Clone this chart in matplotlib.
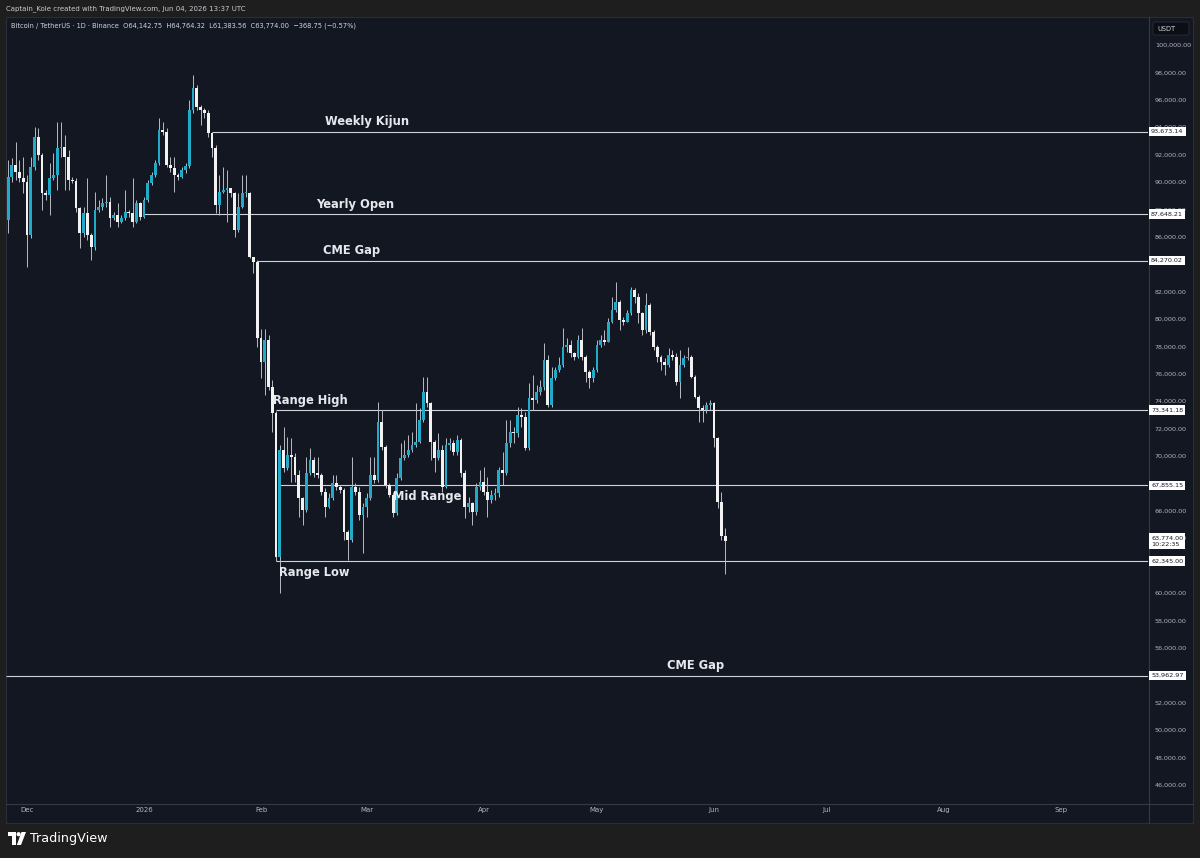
import matplotlib
matplotlib.use("Agg")
import matplotlib.pyplot as plt
import matplotlib.dates as mdates
from matplotlib.patches import Rectangle, Polygon, Circle, FancyBboxPatch
from matplotlib.transforms import blended_transform_factory
import pandas as pd

# BTC/USDT 1D candles (Binance), 2025-11-26 .. 2026-06-04
first_day = "2025-11-26"

opens = [
    87225, 90390, 91240, 90755, 90270, 90025, 86130, 91120, 93310, 91970,
    89170, 89050, 90270, 90510, 92460, 92530, 91850, 90145, 90050, 88080,
    86255, 87715, 86130, 85280, 87955, 88200, 88445, 88565, 87350, 87590,
    87105, 87350, 87835, 87715, 87105, 88445, 87470, 88685, 89905, 90510,
    91360, 93795, 93675, 91240, 90995, 90510, 90390, 90880, 91170, 95255,
    96840, 95500, 95255, 95010, 93550, 92460, 88320, 89295, 89415, 89540,
    89170, 86495, 88200, 89170, 89220, 84550, 84185, 78610, 76890, 78450,
    75060, 73140, 62620, 70435, 69100, 70070, 69950, 68610, 66905, 66055,
    68735, 69705, 68735, 68610, 67395, 66300, 66905, 68000, 67760, 67515,
    64475, 63865, 67760, 67395, 65690, 66300, 66905, 68610, 68245, 72505,
    70680, 67880, 67150, 65810, 68370, 69830, 70070, 70435, 70800, 71045,
    72625, 74690, 73840, 71045, 69830, 70435, 67760, 70800, 70920, 70315,
    71165, 68735, 66300, 66545, 65935, 67760, 68125, 67395, 66790, 67150,
    67275, 68975, 68735, 70920, 71775, 71655, 72990, 72870, 70555, 74210,
    74085, 74695, 75060, 77005, 73720, 75670, 76275, 76640, 77980, 78100,
    77495, 77250, 78465, 77250, 76155, 75670, 76275, 78100, 78465, 78345,
    79805, 80655, 81265, 79925, 79805, 80410, 82115, 81630, 80410, 79195,
    81020, 79075, 77980, 77250, 76885, 76640, 77370, 77250, 75425, 76640,
    77125, 77200, 75790, 74330, 73480, 73355, 73720, 73840, 71290, 66665,
    64142.75,
]
highs = [
    91605, 91730, 92945, 91605, 91850, 90510, 91850, 94040, 93920, 92090,
    89415, 91360, 92090, 94400, 94400, 93430, 92335, 90390, 90270, 88200,
    88200, 90270, 86255, 89295, 88685, 88810, 90510, 88930, 87835, 88445,
    87590, 89415, 87955, 90270, 88685, 88565, 88930, 90145, 90755, 91605,
    94650, 94400, 93920, 91850, 91850, 90630, 91120, 91360, 95985, 97810,
    97080, 95620, 95380, 95255, 93675, 92700, 90510, 91120, 90880, 89540,
    89295, 89170, 90510, 90510, 89295, 84550, 84300, 79300, 79300, 78800,
    75550, 73300, 70800, 72140, 71410, 71285, 70190, 68975, 67030, 69950,
    70560, 69950, 69950, 68735, 67640, 67275, 68610, 68610, 67880, 67640,
    64600, 69950, 68000, 67760, 66545, 67275, 69950, 69950, 73965, 73355,
    70800, 68000, 67395, 68735, 70920, 71165, 71530, 71775, 73840, 73480,
    75790, 75790, 73965, 71165, 71650, 70800, 71285, 71285, 71165, 71530,
    71290, 68975, 67030, 66665, 68005, 68975, 69220, 68490, 67515, 67640,
    69220, 70315, 72625, 72625, 72140, 73600, 73480, 73235, 75305, 75910,
    75180, 75545, 78225, 77370, 76520, 76520, 77250, 79320, 78590, 78465,
    77615, 78830, 79320, 77370, 76275, 76520, 78465, 78830, 79195, 80045,
    81630, 82725, 81385, 80170, 80655, 82360, 82235, 81870, 80535, 81870,
    81140, 79195, 78100, 77370, 77125, 77860, 77735, 77495, 77735, 77370,
    77980, 77370, 75910, 74450, 73720, 73965, 74085, 73965, 71410, 67395,
    64764.32,
]
lows = [
    86255, 90025, 90145, 90025, 89170, 83820, 85890, 90880, 91600, 87955,
    88685, 87590, 90145, 89415, 91850, 89415, 89415, 89905, 87835, 85160,
    86010, 85770, 84305, 85035, 87835, 87955, 88200, 86740, 87225, 86740,
    86985, 87225, 87470, 86740, 86985, 87225, 87350, 88565, 89780, 90390,
    91240, 93430, 91120, 90755, 89295, 90145, 90270, 90630, 90995, 95010,
    95255, 94160, 94650, 93310, 91850, 87715, 87590, 89170, 87105, 88930,
    86010, 86375, 88080, 88930, 84430, 83330, 77950, 75670, 74450, 74800,
    71780, 62300, 59975, 68855, 68975, 68125, 68125, 65570, 64960, 65935,
    68610, 68490, 68370, 67150, 65570, 66180, 66785, 67515, 67275, 63865,
    62410, 63745, 67150, 65325, 62895, 65570, 66785, 68000, 68125, 70435,
    67640, 67030, 65570, 65690, 68245, 69705, 69950, 70315, 70680, 70920,
    72505, 73600, 69705, 68855, 69705, 67395, 67640, 70435, 70070, 70070,
    68490, 65450, 65935, 64960, 65690, 67515, 67150, 65570, 66545, 66790,
    67030, 67880, 68610, 70680, 70920, 71410, 72140, 70440, 70440, 73355,
    73840, 74450, 74820, 73600, 73600, 75545, 76155, 76520, 77615, 77250,
    77005, 77125, 77005, 75425, 74940, 75425, 76155, 77980, 78100, 78345,
    79685, 80535, 79195, 79560, 79805, 80290, 81140, 79685, 78830, 78955,
    78830, 77735, 76885, 76275, 75910, 76520, 77005, 75180, 74210, 76520,
    77005, 75670, 74210, 72505, 72505, 73115, 73355, 70680, 66180, 63900,
    61383.56,
]
closes = [
    90390, 91240, 90755, 90270, 90025, 86130, 91120, 93310, 91970, 89170,
    89050, 90270, 90510, 92460, 92530, 91850, 90145, 90050, 88080, 86255,
    87715, 86130, 85280, 87955, 88200, 88445, 88565, 87350, 87590, 87105,
    87350, 87835, 87715, 87105, 88445, 87470, 88685, 89905, 90510, 91360,
    93795, 93675, 91240, 90995, 90510, 90390, 90880, 91170, 95255, 96840,
    95500, 95255, 95010, 93550, 92460, 88320, 89295, 89415, 89540, 89170,
    86495, 88200, 89170, 89220, 84550, 84185, 78610, 76890, 78450, 75060,
    73140, 62620, 70435, 69100, 70070, 69950, 68610, 66905, 66055, 68735,
    69705, 68735, 68610, 67395, 66300, 66905, 68000, 67760, 67515, 64475,
    63865, 67760, 67395, 65690, 66300, 66905, 68610, 68245, 72505, 70680,
    67880, 67150, 65810, 68370, 69830, 70070, 70435, 70800, 71045, 72625,
    74690, 73840, 71045, 69830, 70435, 67760, 70800, 70920, 70315, 71165,
    68735, 66300, 66545, 65935, 67760, 68125, 67395, 66790, 67150, 67275,
    68975, 68735, 70920, 71775, 71655, 72990, 72870, 70555, 74210, 74085,
    74695, 75060, 77005, 73720, 75670, 76275, 76640, 77980, 78100, 77495,
    77250, 78465, 77250, 76155, 75670, 76275, 78100, 78465, 78345, 79805,
    80655, 81265, 79925, 79805, 80410, 82115, 81630, 80410, 79195, 81020,
    79075, 77980, 77250, 76885, 76640, 77370, 77250, 75425, 76640, 77125,
    77200, 75790, 74330, 73480, 73355, 73720, 73840, 71290, 66665, 64142.75,
    63774.00,
]

# horizontal levels drawn on the chart
level_names = ["Weekly Kijun", "Yearly Open", "CME Gap", "Range High",
               "Mid Range", "Range Low", "CME Gap"]
level_prices = [93673.14, 87648.21, 84270.02, 73341.18, 67855.15, 62345.00, 53962.97]
level_starts = ["2026-01-19", "2026-01-01", "2026-01-31", "2026-02-05",
                "2026-02-06", "2026-02-05", None]
label_dates = ["2026-03-01", "2026-02-26", "2026-02-25", "2026-02-14",
               "2026-03-17", "2026-02-15", "2026-05-27"]
label_above = [True, True, True, True, False, False, True]

price_ticks = list(range(46000, 100001, 2000))
# tick labels that TradingView hides behind the level tags
hidden_ticks = [54000, 62000, 68000, 84000]
month_ticks = ["2025-12-01", "2026-01-01", "2026-02-01", "2026-03-01", "2026-04-01",
               "2026-05-01", "2026-06-01", "2026-07-01", "2026-08-01", "2026-09-01"]
month_labels = ["Dec", "2026", "Feb", "Mar", "Apr", "May", "Jun", "Jul", "Aug", "Sep"]

header = "Captain_Kole created with TradingView.com, Jun 04, 2026 13:37 UTC"
legend = ("Bitcoin / TetherUS · 1D · Binance  O64,142.75  H64,764.32  "
          "L61,383.56  C63,774.00  −368.75 (−0.57%)")
last_price = closes[-1]
countdown = "10:22:35"

# colours
OUTER = "#1e1e1e"
PANEL = "#131722"
SEP = "#363a45"
UP = "#22abc9"
DOWN = "#f2f2f2"
WICK = "#b8bbc2"
LEVEL = "#cfd2d8"
TXT = "#b2b5be"

W, H = 1200, 858
fig = plt.figure(figsize=(12, 8.58), dpi=100, facecolor=OUTER)

# background layer in pixel coordinates
bg = fig.add_axes([0, 0, 1, 1], zorder=0)
bg.set_xlim(0, W)
bg.set_ylim(H, 0)
bg.axis("off")
bg.add_patch(Rectangle((6, 17), 1187, 806, fc=PANEL, ec="#2a2e39", lw=0.8))
bg.plot([1148.5, 1148.5], [17, 823], color=SEP, lw=0.8)
bg.plot([6, 1193], [803.5, 803.5], color=SEP, lw=0.8)
bg.text(6, 9, header, fontsize=5, color="#c8cbd2", va="center", ha="left")
bg.text(11, 26, legend, fontsize=4.8, color="#d1d4dc", va="center", ha="left")
bg.add_patch(FancyBboxPatch((1153, 22), 36, 13, boxstyle="round,pad=0,rounding_size=2",
                            fc="#0c0e14", ec="#2a2e39", lw=0.6))
bg.text(1157, 28.7, "USDT", fontsize=4.8, color="#d1d4dc", va="center", ha="left")

# TradingView logo
bg.add_patch(Polygon([(8, 832), (16, 832), (16, 845), (12, 845), (12, 836), (8, 836)],
                     closed=True, fc="white", ec="none"))
bg.add_patch(Circle((18.6, 834.2), 2.1, fc="white", ec="none"))
bg.add_patch(Polygon([(21.5, 832), (26, 832), (21, 845), (16.8, 845)],
                     closed=True, fc="white", ec="none"))
bg.text(30, 838.5, "TradingView", fontsize=9.2, color="white", va="center", ha="left",
        fontweight="medium")

# main chart
ax = fig.add_axes([6 / W, 1 - 803 / H, 1142 / W, 786 / H], zorder=2)
ax.set_facecolor("none")
for s in ax.spines.values():
    s.set_visible(False)

dates = pd.date_range(first_day, periods=len(closes), freq="D")
xs = mdates.date2num(dates)
up = [c >= o for o, c in zip(opens, closes)]
colors = [UP if u else DOWN for u in up]
bottoms = [min(o, c) for o, c in zip(opens, closes)]
heights = [max(abs(c - o), 70) for o, c in zip(opens, closes)]

ax.vlines(xs, lows, highs, color=WICK, lw=0.7, zorder=3)
ax.bar(xs, heights, bottom=bottoms, width=0.74, color=colors, edgecolor="none", zorder=4)

dec1 = mdates.datestr2num("2025-12-01")
xmin, xmax = dec1 - 5.56, dec1 + 297.0
ax.set_xlim(xmin, xmax)
ax.set_ylim(44672, 102044)

# levels
lab_tr = blended_transform_factory(ax.transAxes, ax.transData)
for name, price, start, ld, above in zip(level_names, level_prices, level_starts,
                                         label_dates, label_above):
    x0 = xmin if start is None else mdates.datestr2num(start)
    ax.hlines(price, x0, xmax, color=LEVEL, lw=0.8, zorder=2)
    ax.annotate(name, xy=(mdates.datestr2num(ld), price),
                xytext=(0, 2.5 if above else -3.5), textcoords="offset points",
                ha="center", va="bottom" if above else "top",
                fontsize=8.3, fontweight="bold", color="#e6e8ee", zorder=6)
    ax.text(1 + 3 / 1142, price, f"{price:,.2f}", transform=lab_tr,
            ha="left", va="center", fontsize=4.6, color=PANEL, clip_on=False,
            zorder=10, bbox=dict(boxstyle="square,pad=0.35", fc="white", ec="none"))

# last price tag with countdown
ax.text(1 + 3 / 1142, last_price, f"{last_price:,.2f}\n{countdown}", transform=lab_tr,
        ha="left", va="center", fontsize=4.6, color=PANEL, clip_on=False,
        zorder=10, linespacing=1.4,
        bbox=dict(boxstyle="square,pad=0.35", fc="white", ec="none"))

# axes ticks
ax.yaxis.tick_right()
ax.set_yticks(price_ticks)
ax.set_yticklabels(["" if v in hidden_ticks else f"{v:,.2f}" for v in price_ticks])
ax.tick_params(axis="y", length=0, pad=5, labelsize=4.6, labelcolor=TXT)
ax.set_xticks([mdates.datestr2num(m) for m in month_ticks])
ax.set_xticklabels(month_labels)
ax.tick_params(axis="x", length=0, pad=3.2, labelsize=5, labelcolor=TXT)
ax.grid(False)

fig.savefig("out.png", dpi=100, facecolor=fig.get_facecolor())
